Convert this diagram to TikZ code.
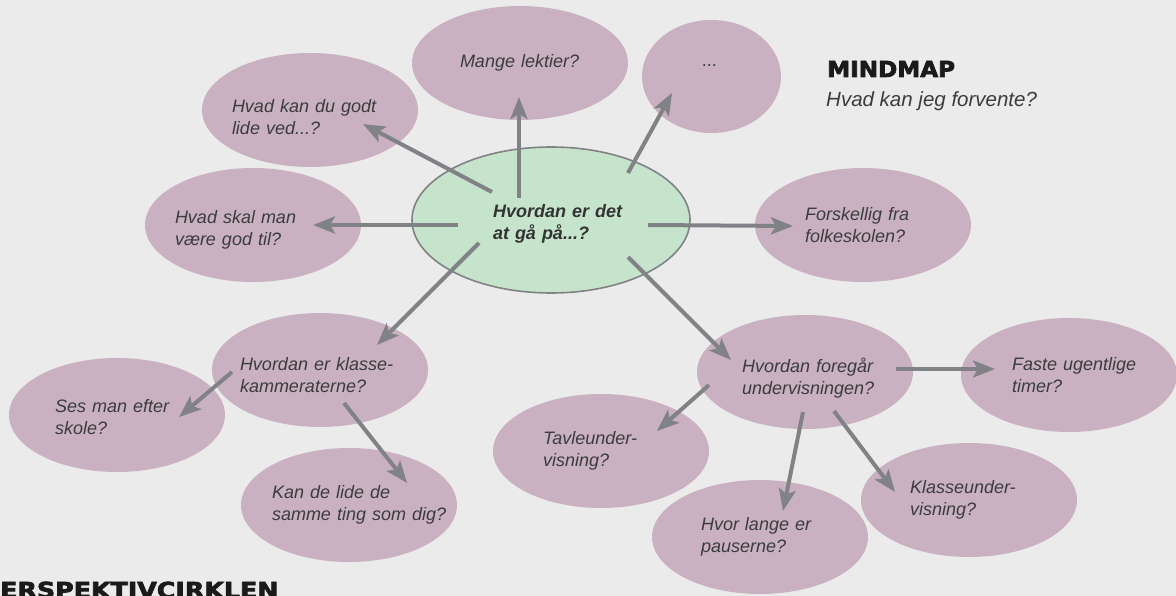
\documentclass[tikz,border=0pt]{standalone}
\usepackage{graphicx}
\usepackage{fontspec}
\setmainfont{Liberation Sans}
\newfontfamily\headfont{DejaVu Sans}[UprightFont={* Bold}, UprightFeatures={FakeBold=3}]
\usetikzlibrary{arrows.meta,shapes.geometric}
\definecolor{bg}{RGB}{235,235,235}
\definecolor{bub}{RGB}{201,177,193}
\definecolor{cen}{RGB}{198,228,203}
\definecolor{arr}{RGB}{128,130,133}
\definecolor{txt}{RGB}{60,60,60}
\definecolor{ctxt}{RGB}{51,51,51}
\definecolor{head}{RGB}{26,26,26}
\newcommand\twol[2]{\mbox{#1}\\\mbox{#2}}
\newcommand\twod[3]{\mbox{\rule{0pt}{#1}#2}\\\mbox{#3}}
\begin{document}
\begin{tikzpicture}[x=1pt,y=-1pt,
  bubble/.style={ellipse, fill=bub, minimum width=216pt, minimum height=114pt,
    inner xsep=-14pt, inner ysep=0pt, align=left, text=txt,
    font=\fontsize{18}{22.5}\selectfont\itshape},
  hub/.style={ellipse, fill=cen, draw=arr, line width=1.6pt, minimum width=278pt,
    minimum height=146pt, inner xsep=-14pt, inner ysep=0pt, align=left, text=ctxt,
    font=\fontsize{18}{22.5}\selectfont\bfseries\itshape},
  conn/.style={draw=arr, line width=4pt, -{Stealth[length=22pt,width=17pt,inset=5pt]}},
  headtxt/.style={anchor=base west, inner sep=0pt, text=head,
    font=\headfont\fontsize{22}{26}\selectfont},
  subtxt/.style={anchor=base west, inner sep=0pt, text=txt,
    font=\fontsize{20.5}{24}\selectfont\itshape}]
\useasboundingbox (0,0) rectangle (1176,596);
\clip (0,0) rectangle (1176,596);
\fill[bg] (0,0) rectangle (1176,596);

% bubbles
\node[bubble, text width=120pt] (b1) at (520,63) {Mange lektier?};
\node[bubble, minimum width=139pt, minimum height=113pt, text width=18pt,
      text depth=21pt] (b2) at (711.5,76.5) {...};
\node[bubble, text width=156pt] (b3) at (310,110) {\twod{27pt}{Hvad kan du godt}{lide ved...?}};
\node[bubble, text width=156pt] (b4) at (253,225) {\twod{23pt}{Hvad skal man}{være god til?}};
\node[bubble, text width=116pt] (b6) at (863,225) {\twol{Forskellig fra}{folkeskolen?}};
\node[bubble, text width=124pt] (b8) at (117,415) {\twod{17pt}{Ses man efter}{skole?}};
\node[bubble, text width=160pt] (b7) at (320,370) {\twod{23pt}{Hvordan er klasse-}{kammeraterne?}};
\node[bubble, text width=154pt] (b9) at (349,505) {\twol{Kan de lide de}{samme ting som dig?}};
\node[bubble, text width=116pt] (b12) at (601,451) {\twol{Tavleunder-}{visning?}};
\node[bubble, text width=126pt] (b10) at (805,372) {\twod{27pt}{Hvordan foregår}{undervisningen?}};
\node[bubble, text width=114pt] (b11) at (1069,375) {\twol{Faste ugentlige}{timer?}};
\node[bubble, text width=118pt] (b13) at (760,537) {\twol{Hvor lange er}{pauserne?}};
\node[bubble, text width=118pt] (b14) at (969,500) {\twol{Klasseunder-}{visning?}};
\node[hub, text width=116pt] (c) at (551,220) {\twod{21pt}{Hvordan er det}{at gå på...?}};

% connectors
\draw[conn] ([shift={(-59,-28)}]c.center) -- ([shift={(53,14)}]b3.center);
\draw[conn] ([shift={(-32,-22)}]c.center) -- ([shift={(-1,34)}]b1.center);
\draw[conn] ([shift={(-93,5)}]c.center) -- ([shift={(60,0)}]b4.center);
\draw[conn] ([shift={(-72,23)}]c.center) -- ([shift={(57,-25)}]b7.center);
\draw[conn] ([shift={(77,-47)}]c.center) -- ([shift={(-39.5,16.5)}]b2.center);
\draw[conn] ([shift={(97,5)}]c.center) -- ([shift={(-70,1)}]b6.center);
\draw[conn] ([shift={(77,37)}]c.center) -- ([shift={(-74,-12)}]b10.center);
\draw[conn] ([shift={(-88,2)}]b7.center) -- ([shift={(62,2)}]b8.center);
\draw[conn] ([shift={(24,33)}]b7.center) -- ([shift={(58,-22)}]b9.center);
\draw[conn] ([shift={(91,-3)}]b10.center) -- ([shift={(-74,-6)}]b11.center);
\draw[conn] ([shift={(-96,13)}]b10.center) -- ([shift={(56,-20)}]b12.center);
\draw[conn] ([shift={(-2,40)}]b10.center) -- ([shift={(23,-26)}]b13.center);
\draw[conn] ([shift={(29,39)}]b10.center) -- ([shift={(-74,-8)}]b14.center);

% headings
\node[headtxt] (t1) at (827,77) {\scalebox{1.05}[1]{MINDMAP}};
\node[subtxt] (t2) at (826,107) {Hvad kan jeg forvente?};
\node[headtxt] (t3) at (0,598) {\scalebox{1.15}[1]{ERSPEKTIVCIRKLEN}};
\end{tikzpicture}
\end{document}
